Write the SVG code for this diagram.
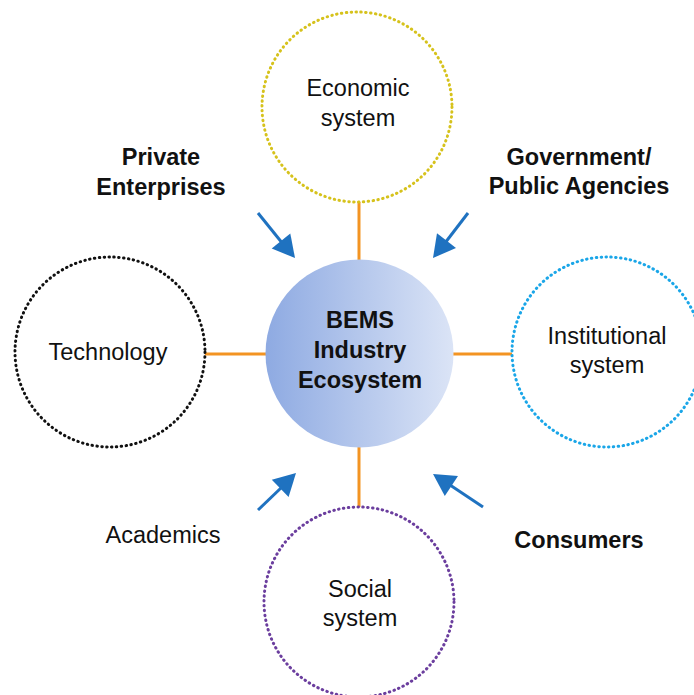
<svg xmlns="http://www.w3.org/2000/svg" width="694" height="695" viewBox="0 0 694 695">
<style>
.ring{fill:#fff;stroke-width:3;stroke-linecap:round;stroke-dasharray:0.5 4.4}
.lbl{font-family:"Liberation Sans",Arial,sans-serif;font-size:23.5px;fill:#111;text-anchor:middle}
.bold{font-weight:bold}
.conn{stroke:#f39422;stroke-width:3;fill:none}
.arr{stroke:#1f72c0;stroke-width:3;fill:none}
.head{fill:#1f72c0}
</style>
<defs>
<linearGradient id="g" x1="0" y1="0" x2="1" y2="0">
<stop offset="0" stop-color="#8eaae2"/>
<stop offset="1" stop-color="#dbe4f6"/>
</linearGradient>
</defs>
<rect width="694" height="695" fill="#fff"/>
<g id="connectors">
<line class="conn" x1="359" y1="202" x2="359" y2="261"/>
<line class="conn" x1="204" y1="354" x2="266" y2="354"/>
<line class="conn" x1="453" y1="354" x2="512" y2="354"/>
<line class="conn" x1="359" y1="446" x2="359" y2="507"/>
<line class="arr" x1="258" y1="213" x2="283" y2="244"/>
<polygon class="head" points="295,258 290.3,233.4 271.7,248.6"/>
<line class="arr" x1="468" y1="213" x2="445" y2="243"/>
<polygon class="head" points="433,258 437,233.2 456,248"/>
<line class="arr" x1="258" y1="510" x2="282" y2="487"/>
<polygon class="head" points="296,473 288.6,497 271.8,479.8"/>
<line class="arr" x1="483" y1="507" x2="450" y2="485"/>
<polygon class="head" points="433,474 458,476.1 444.8,496.1"/>
</g>
<g id="economic">
<circle class="ring" cx="357" cy="107" r="95" stroke="#d6c21c"/>
<text class="lbl" x="358" y="96">Economic</text>
<text class="lbl" x="358" y="126">system</text>
</g>
<g id="technology">
<circle class="ring" cx="110" cy="352" r="95" stroke="#111"/>
<text class="lbl" x="108" y="360">Technology</text>
</g>
<g id="institutional">
<circle class="ring" cx="607" cy="352" r="95" stroke="#1aa6e8"/>
<text class="lbl" x="607" y="344">Institutional</text>
<text class="lbl" x="607" y="373">system</text>
</g>
<g id="social">
<circle class="ring" cx="359" cy="602" r="95" stroke="#6b3e9e"/>
<text class="lbl" x="360" y="597">Social</text>
<text class="lbl" x="360" y="626">system</text>
</g>
<g id="center">
<circle cx="359.5" cy="353.5" r="94" fill="url(#g)"/>
<text class="lbl bold" x="360" y="328">BEMS</text>
<text class="lbl bold" x="360" y="358">Industry</text>
<text class="lbl bold" x="360" y="388">Ecosystem</text>
</g>
<g id="private">
<text class="lbl bold" x="161" y="165">Private</text>
<text class="lbl bold" x="161" y="195">Enterprises</text>
</g>
<g id="government">
<text class="lbl bold" x="579" y="165">Government/</text>
<text class="lbl bold" x="579" y="194">Public Agencies</text>
</g>
<g id="academics">
<text class="lbl" x="163" y="543">Academics</text>
</g>
<g id="consumers">
<text class="lbl bold" x="579" y="548">Consumers</text>
</g>
</svg>
